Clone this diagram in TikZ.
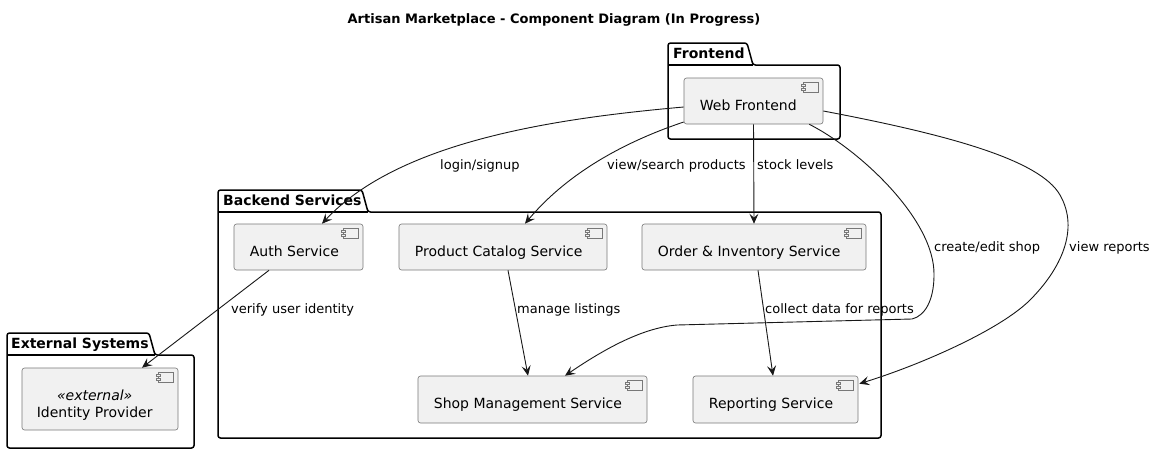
\documentclass[tikz,border=0pt]{standalone}
\usepackage{fontspec}
\setmainfont{DejaVu Sans}
\usetikzlibrary{arrows.meta,calc}
\definecolor{compfill}{HTML}{F1F1F1}
\definecolor{edgecol}{HTML}{181818}
\definecolor{compline}{HTML}{787878}
\tikzset{
  comp/.style={draw=compline, line width=0.6pt, fill=compfill, rounded corners=2.5pt, inner sep=0pt, shape=rectangle},
  conn/.style={draw=edgecol, line width=0.9pt, -{Stealth[length=10pt,width=9pt,inset=4pt]}},
  lbl/.style={anchor=base west, inner sep=0pt, font=\fontsize{13}{15}\selectfont},
  ctext/.style={anchor=base west, inner sep=0pt, font=\fontsize{14}{16}\selectfont},
  pkg/.style={draw=black, line width=1.5pt, rounded corners=2.5pt},
  pkgtext/.style={anchor=base west, inner sep=0pt, font=\fontsize{14}{16}\selectfont\bfseries},
  icon/.style={draw=compline, line width=0.6pt, fill=compfill}
}
\newcommand\mycompicon[1]{%
  \draw[icon] ($(#1.north east)+(-20,5)$) rectangle ($(#1.north east)+(-5,15)$);
  \draw[icon] ($(#1.north east)+(-22,7)$) rectangle ($(#1.north east)+(-18,9)$);
  \draw[icon] ($(#1.north east)+(-22,11)$) rectangle ($(#1.north east)+(-18,13)$);
}
\begin{document}
\begin{tikzpicture}[x=1pt,y=-1pt]
\useasboundingbox[fill=white] (0,0) rectangle (1156,453);

% title
\node[anchor=base, inner sep=0pt, font=\fontsize{13}{15}\selectfont\bfseries] (title) at (554,23) {Artisan Marketplace - Component Diagram (In Progress)};

% packages
\draw[pkg] (668,139) -- (668,43) -- (747,43) -- (753,65) -- (840,65) -- (840,139) -- cycle;
\draw[line width=1.5pt] (668,65) -- (753,65);
\node[pkgtext] (pfront) at (673,58) {Frontend};

\draw[pkg] (218,438) -- (218,190) -- (362,190) -- (368,212) -- (881,212) -- (881,438) -- cycle;
\draw[line width=1.5pt] (218,212) -- (368,212);
\node[pkgtext] (pback) at (223,205) {Backend Services};

\draw[pkg] (7,448) -- (7,333) -- (149,333) -- (155,355) -- (194,355) -- (194,448) -- cycle;
\draw[line width=1.5pt] (7,355) -- (155,355);
\node[pkgtext] (pext) at (11,348) {External Systems};

% components
\node[comp, minimum width=139pt, minimum height=46pt] (web) at (753.5,101) {};
\node[comp, minimum width=129pt, minimum height=46pt] (auth) at (298.5,247) {};
\node[comp, minimum width=208pt, minimum height=46pt] (catalog) at (503,247) {};
\node[comp, minimum width=224pt, minimum height=46pt] (order) at (754,247) {};
\node[comp, minimum width=229pt, minimum height=47pt] (shop) at (532.5,399.5) {};
\node[comp, minimum width=165pt, minimum height=47pt] (report) at (775.5,399.5) {};
\node[comp, minimum width=156pt, minimum height=62pt] (idp) at (100,399) {};

\foreach \n in {web,auth,catalog,order,shop,report,idp} {\mycompicon{\n}}

\node[ctext] (webt) at ($(web.north west)+(16,33)$) {Web Frontend};
\node[ctext] (autht) at ($(auth.north west)+(16,33)$) {Auth Service};
\node[ctext] (catalogt) at ($(catalog.north west)+(16,33)$) {Product Catalog Service};
\node[ctext] (ordert) at ($(order.north west)+(16,33)$) {Order \& Inventory Service};
\node[ctext] (shopt) at ($(shop.north west)+(16,33)$) {Shop Management Service};
\node[ctext] (reportt) at ($(report.north west)+(16,33)$) {Reporting Service};
\node[anchor=base, inner sep=0pt, font=\fontsize{14}{16}\selectfont\itshape] (idps) at ($(idp.north west)+(73,33)$) {«external»};
\node[anchor=base, inner sep=0pt, font=\fontsize{14}{16}\selectfont] (idpt) at ($(idp.north west)+(73,50)$) {Identity Provider};

% connectors
\draw[conn] ($(web.west)+(0,6)$) .. controls (560,118) and (400,140) .. ($(auth.north)+(23.5,0)$);
\draw[conn] ($(web.west)+(0,21)$) .. controls (630,140) and (570,170) .. ($(catalog.north)+(22,0)$);
\draw[conn] (web.south) -- (order.north);
\draw[conn] ($(web.south east)+(-14,0)$) .. controls (860,150) and (935,220) .. (934,275)
   .. controls (934,300) and (925,316) .. (912,319) -- (677,325)
   .. controls (640,328) and (600,352) .. ($(shop.north)+(32.5,0)$);
\draw[conn] ($(web.east)+(0,10)$) .. controls (950,135) and (1040,160) .. (1060,195)
   .. controls (1080,230) and (1060,270) .. (1030,300)
   .. controls (1000,330) and (920,365) .. ($(report.north east)+(1,8)$);
\draw[conn] ($(catalog.south)+(5,0)$) -- ($(shop.north)+(-4.5,0)$);
\draw[conn] ($(order.south)+(4,0)$) -- ($(report.north)+(-2.5,0)$);
\draw[conn] ($(auth.south)+(-29.5,0)$) -- ($(idp.north)+(42,0)$);

% labels
\node[lbl] (l1) at (440,169) {login/signup};
\node[lbl] (l2) at (607,169) {view/search products};
\node[lbl] (l3) at (757,169) {stock levels};
\node[lbl] (l4) at (934,251) {create/edit shop};
\node[lbl] (l5) at (1069,251) {view reports};
\node[lbl] (l6) at (517,313) {manage listings};
\node[lbl] (l7) at (765,313) {collect data for reports};
\node[lbl] (l8) at (231,313) {verify user identity};
\end{tikzpicture}
\end{document}
